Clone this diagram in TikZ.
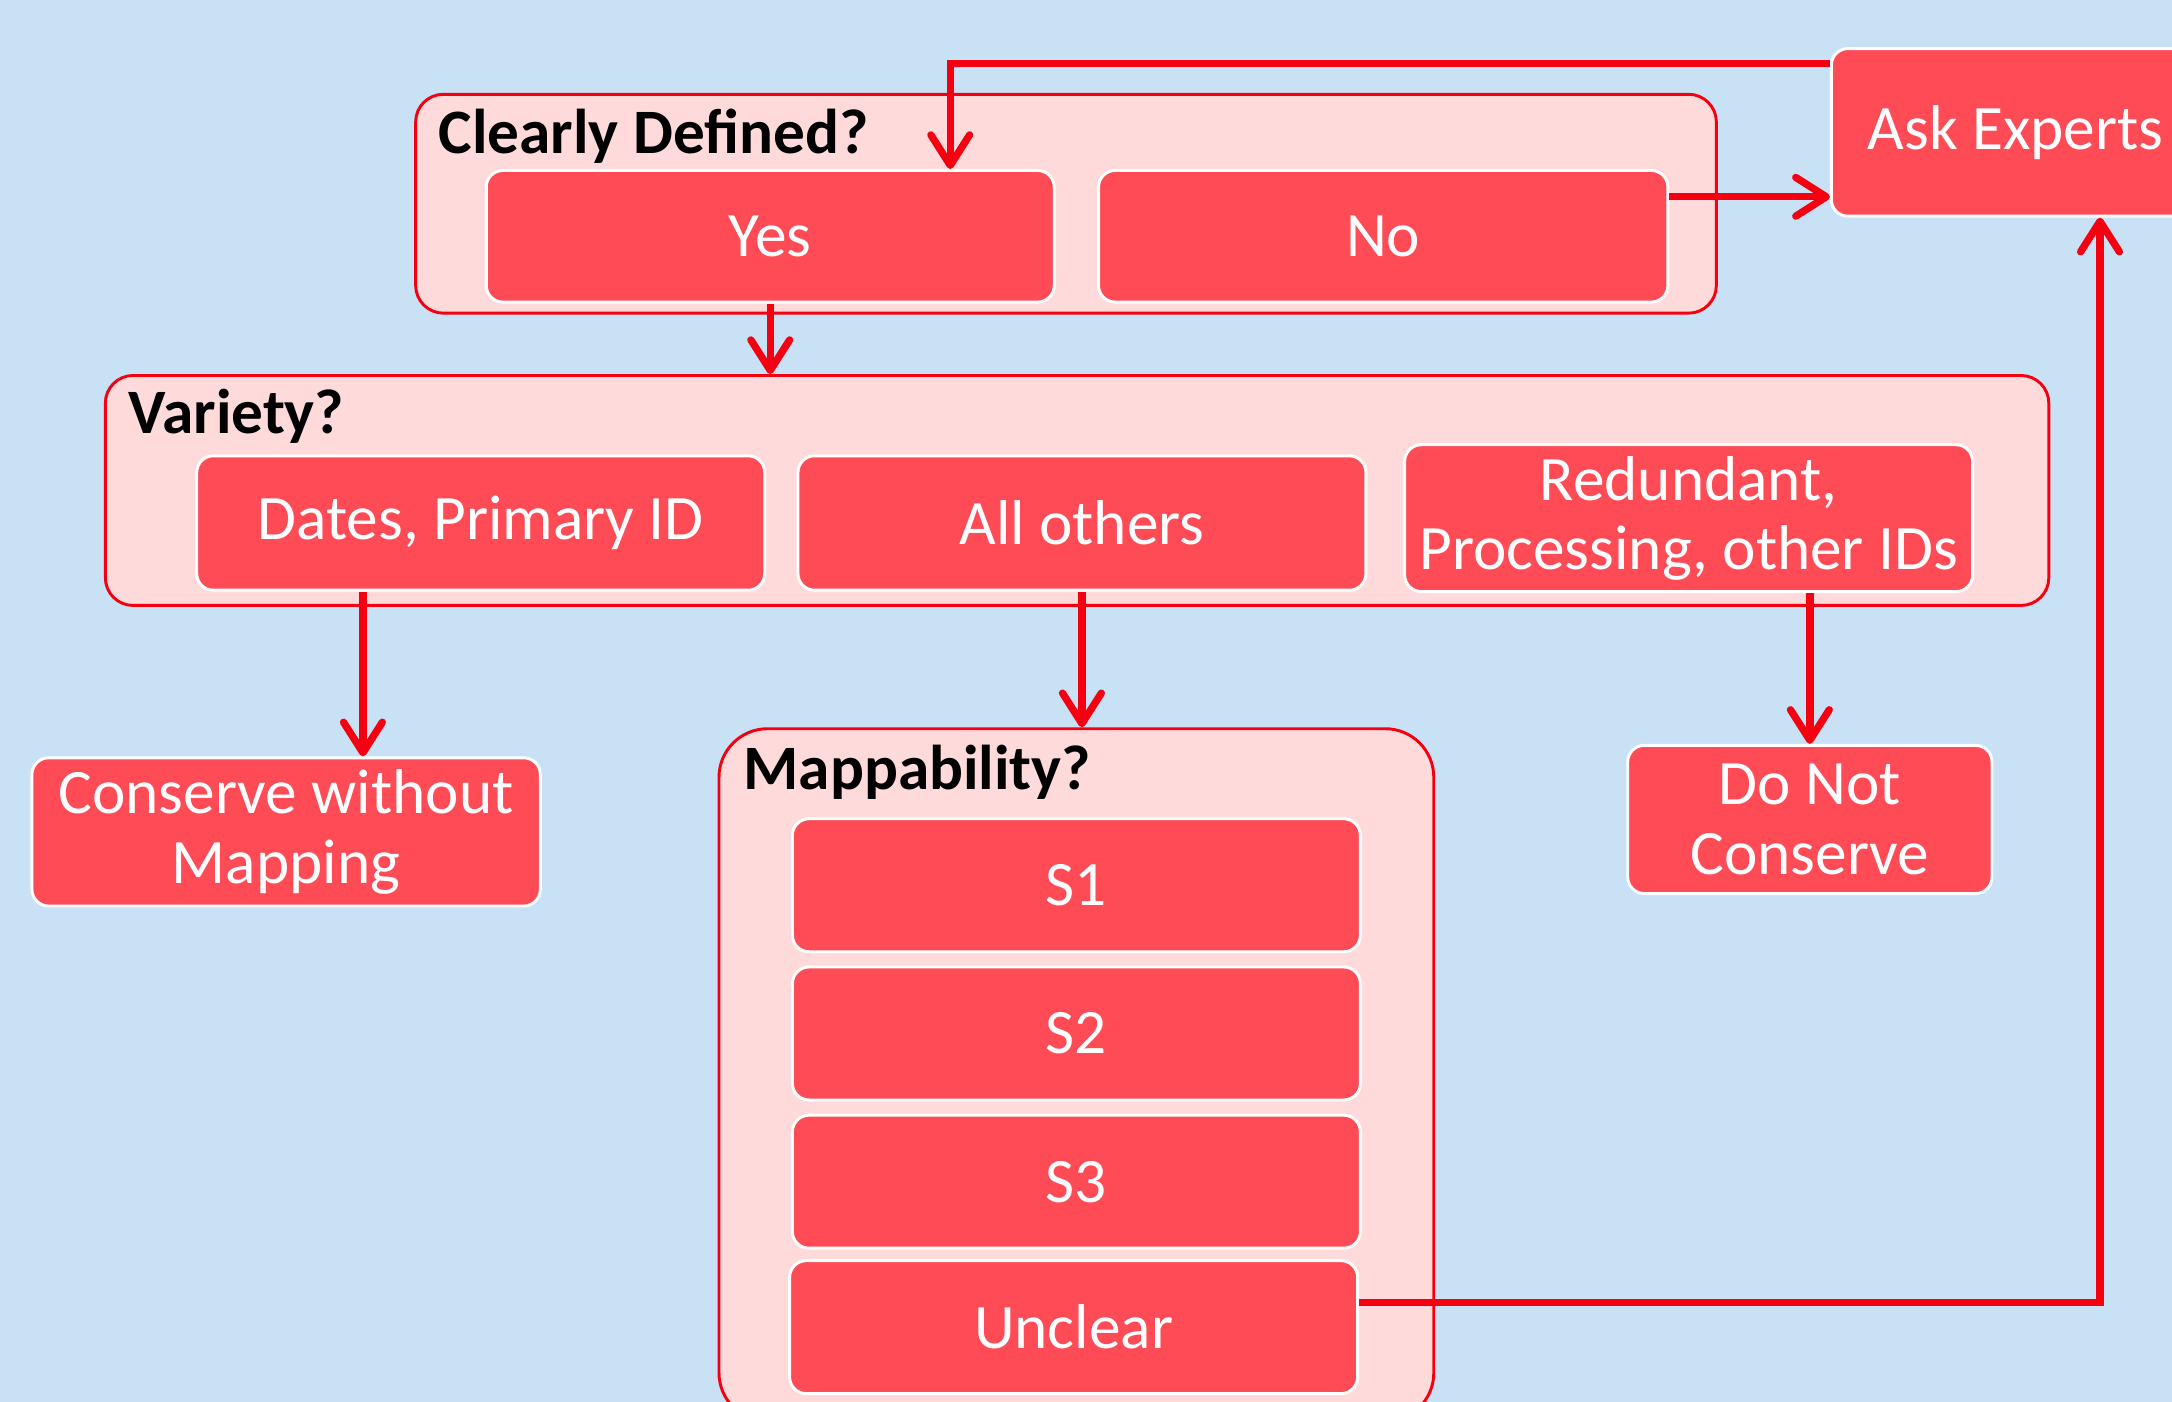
\documentclass[tikz,border=0pt]{standalone}
\usepackage{fontspec}
\setmainfont{Carlito}
\usetikzlibrary{arrows.meta}

\definecolor{skyback}{RGB}{201,225,245}
\definecolor{pinkfill}{RGB}{255,218,218}
\definecolor{redfill}{RGB}{255,75,85}
\definecolor{redline}{RGB}{245,0,16}

\tikzset{
  outerbox/.style={rectangle, draw=redline, fill=pinkfill, line width=0.6pt, rounded corners=2mm, anchor=north west},
  choicebox/.style={rectangle, draw=white, fill=redfill, line width=0.6pt, rounded corners=1.2mm, anchor=north west,
    text=white, align=center, inner sep=0pt, font=\fontsize{13}{14.2}\selectfont},
  boxtitle/.style={anchor=base west, inner sep=0pt, font=\fontsize{13}{14.2}\selectfont\bfseries},
  flow/.style={draw=redline, line width=1.5pt, -{Straight Barb[length=2.2mm,width=2.8mm,round]}},
}

\begin{document}
\begin{tikzpicture}
\useasboundingbox (0,0) rectangle (15.68,-10.12);
\fill[skyback] (0,0) rectangle (15.68,-10.12);

% first question
\node (rectClear) [outerbox, minimum width=93.9mm, minimum height=15.8mm] at (2.99,-0.67) {};
\node (titleClear) [boxtitle] at (3.16,-1.11) {Clearly Defined?};
\node (rectYes) [choicebox, minimum width=41mm, minimum height=9.5mm] at (3.50,-1.22) {Yes};
\node (rectNo) [choicebox, minimum width=41.1mm, minimum height=9.5mm] at (7.92,-1.22) {No};

\node (rectAsk) [choicebox, minimum width=26.6mm, minimum height=12.1mm] at (13.21,-0.34) {Ask Experts};

% second question
\node (rectVar) [outerbox, minimum width=140.3mm, minimum height=16.6mm] at (0.75,-2.70) {};
\node (titleVar) [boxtitle] at (0.92,-3.13) {Variety?};
\node (rectDates) [choicebox, minimum width=41mm, minimum height=9.7mm] at (1.41,-3.28) {Dates, Primary ID};
\node (rectOthers) [choicebox, minimum width=41mm, minimum height=9.7mm] at (5.75,-3.28) {All others};
\node (rectRed) [choicebox, minimum width=41mm, minimum height=10.6mm] at (10.13,-3.20) {Redundant,\\Processing, other IDs};

\node (rectConserve) [choicebox, minimum width=36.7mm, minimum height=10.7mm] at (0.22,-5.46) {Conserve without\\Mapping};
\node (rectDoNot) [choicebox, minimum width=26.3mm, minimum height=10.7mm] at (11.74,-5.37) {Do Not\\Conserve};

% third question
\node (rectMap) [outerbox, rounded corners=3.5mm, minimum width=51.6mm, minimum height=50mm] at (5.18,-5.25) {};
\node (titleMap) [boxtitle] at (5.36,-5.70) {Mappability?};
\node (rectS1) [choicebox, minimum width=41mm, minimum height=9.6mm] at (5.71,-5.90) {S1};
\node (rectS2) [choicebox, minimum width=41mm, minimum height=9.6mm] at (5.71,-6.97) {S2};
\node (rectS3) [choicebox, minimum width=41mm, minimum height=9.6mm] at (5.71,-8.04) {S3};
\node (rectUnclear) [choicebox, minimum width=41mm, minimum height=9.6mm] at (5.69,-9.09) {Unclear};

% connectors
\coordinate (outNo) at ([yshift=2.85mm]rectNo.east);
\coordinate (outAsk) at ([yshift=-1.2mm]rectAsk.north west);
\coordinate (inYes) at ([xshift=33.6mm]rectYes.north west);
\coordinate (outDates) at ([xshift=12.1mm]rectDates.south west);
\coordinate (outUnclear) at ([yshift=1.8mm]rectUnclear.east);
\coordinate (inAsk) at ([xshift=19.5mm]rectAsk.south west);

\draw[flow] (outNo) -- (outNo -| rectAsk.west);
\draw[flow] (outAsk) -| (inYes);
\draw[flow] (rectYes.south) -- (rectYes.south |- rectVar.north);
\draw[flow] (outDates) -- (outDates |- rectConserve.north);
\draw[flow] (rectOthers.south) -- (rectOthers.south |- rectMap.north);
\draw[flow] (rectDoNot.north |- rectRed.south) -- (rectDoNot.north);
\draw[flow] (outUnclear) -| (inAsk);
\end{tikzpicture}
\end{document}
